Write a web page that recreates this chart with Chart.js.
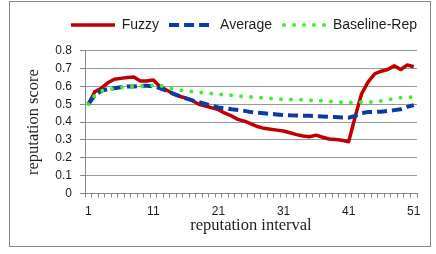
<!DOCTYPE html>
<html>
<head>
<meta charset="utf-8">
<script src="https://cdn.jsdelivr.net/npm/chart.js@4.4.0/dist/chart.umd.min.js"></script>
<style>
  html, body { margin: 0; padding: 0; background: #fff; }
</style>
</head>
<body>
<canvas id="chart" width="436" height="254"></canvas>
<script>
// reputation intervals (x categories)
const intervals = [1, 2, 3, 4, 5, 6, 7, 8, 9, 10, 11, 12, 13, 14, 15, 16, 17, 18, 19, 20,
  21, 22, 23, 24, 25, 26, 27, 28, 29, 30, 31, 32, 33, 34, 35, 36, 37, 38, 39, 40,
  41, 42, 43, 44, 45, 46, 47, 48, 49, 50, 51];

// series
const fuzzy = [0.50, 0.57, 0.59, 0.62, 0.64, 0.645, 0.65, 0.652, 0.63, 0.63,
  0.636, 0.60, 0.58, 0.56, 0.545, 0.535, 0.52, 0.50, 0.49, 0.48,
  0.47, 0.45, 0.435, 0.415, 0.405, 0.39, 0.375, 0.365, 0.36, 0.355,
  0.35, 0.34, 0.33, 0.322, 0.318, 0.327, 0.315, 0.305, 0.302, 0.298,
  0.29, 0.43, 0.56, 0.625, 0.67, 0.685, 0.695, 0.715, 0.695, 0.72, 0.71];
const average = [0.50, 0.55, 0.575, 0.585, 0.59, 0.595, 0.60, 0.60, 0.603, 0.603,
  0.60, 0.59, 0.575, 0.56, 0.545, 0.533, 0.522, 0.512, 0.502, 0.492,
  0.482, 0.477, 0.472, 0.468, 0.463, 0.456, 0.452, 0.449, 0.446, 0.443,
  0.44, 0.438, 0.437, 0.436, 0.435, 0.434, 0.432, 0.43, 0.428, 0.426,
  0.425, 0.435, 0.45, 0.456, 0.457, 0.458, 0.462, 0.467, 0.472, 0.485, 0.495];
const baselineRep = [0.50, 0.55, 0.575, 0.582, 0.588, 0.594, 0.597, 0.60, 0.602, 0.605,
  0.607, 0.605, 0.595, 0.587, 0.58, 0.575, 0.571, 0.567, 0.563, 0.56,
  0.557, 0.553, 0.55, 0.546, 0.543, 0.54, 0.538, 0.535, 0.532, 0.529,
  0.527, 0.527, 0.526, 0.525, 0.523, 0.521, 0.519, 0.517, 0.513, 0.511,
  0.51, 0.51, 0.511, 0.512, 0.514, 0.518, 0.524, 0.532, 0.537, 0.539, 0.539];

const xTickLabels = [1, 11, 21, 31, 41, 51];
const yTicks = [0, 0.1, 0.2, 0.3, 0.4, 0.5, 0.6, 0.7, 0.8];

const GRID = '#9a9a9a';
const AXIS = '#878787';
const TEXT = '#1e1e1e';
const SANS = '"Liberation Sans", Arial, sans-serif';
const SERIF = '"Liberation Serif", "Times New Roman", serif';

const RED = '#C00000';
const BLUE = '#0A3CA8';
const GREEN = '#3BF02C';

// little legend swatch drawn with the same stroke as the series
// (chart.js drops the dash pattern for point-style legend items)
function swatch(color, width, dash, cap, len) {
  const c = document.createElement('canvas');
  c.width = 44;
  c.height = 8;
  const ctx = c.getContext('2d');
  ctx.strokeStyle = color;
  ctx.lineWidth = width;
  ctx.lineCap = cap;
  ctx.setLineDash(dash);
  ctx.beginPath();
  ctx.moveTo(cap === 'round' ? 2 : 0, 4);
  ctx.lineTo(len, 4);
  ctx.stroke();
  return c;
}

// white background + thin grey frame round the whole chart
const framePlugin = {
  id: 'frame',
  beforeDraw(chart) {
    const ctx = chart.ctx;
    ctx.save();
    ctx.fillStyle = '#fff';
    ctx.fillRect(0, 0, chart.width, chart.height);
    ctx.strokeStyle = AXIS;
    ctx.lineWidth = 1;
    ctx.strokeRect(9.5, 1.5, 421, 245);
    ctx.restore();
  }
};

// push the legend row to the right so its last text ends at the plot edge
const legendShift = {
  id: 'legendShift',
  afterLayout(chart) {
    if (chart.legend) {
      chart.legend.left += 10;
      chart.legend.right += 10;
    }
  }
};

// minor tick marks sit on the category boundaries, labels on the categories
const boundaries = intervals.map(v => v - 0.5).concat([intervals[intervals.length - 1] + 0.5]);

new Chart(document.getElementById('chart').getContext('2d'), {
  type: 'line',
  data: {
    labels: intervals,
    datasets: [
      {
        label: 'Fuzzy',
        data: fuzzy,
        borderColor: RED,
        backgroundColor: RED,
        borderWidth: 3.5,
        borderJoinStyle: 'round',
        pointRadius: 0,
        pointStyle: swatch(RED, 3.5, [], 'butt', 44),
        tension: 0,
        order: 3,
      },
      {
        label: 'Average',
        data: average,
        borderColor: BLUE,
        backgroundColor: BLUE,
        borderWidth: 4,
        borderDash: [10, 5],
        pointRadius: 0,
        pointStyle: swatch(BLUE, 4, [10, 5], 'butt', 40),
        tension: 0,
        order: 2,
      },
      {
        label: 'Baseline-Rep',
        data: baselineRep,
        borderColor: GREEN,
        backgroundColor: GREEN,
        borderWidth: 4,
        borderDash: [0, 10],
        borderCapStyle: 'round',
        pointRadius: 0,
        pointStyle: swatch(GREEN, 4, [0, 10], 'round', 44),
        tension: 0,
        order: 1,
      },
    ],
  },
  options: {
    responsive: false,
    animation: false,
    layout: {
      padding: { left: 21, right: 19, top: 8, bottom: 16 },
    },
    plugins: {
      tooltip: { enabled: false },
      legend: {
        position: 'top',
        align: 'end',
        weight: 2000,
        labels: {
          usePointStyle: true,
          pointStyleWidth: 44,
          padding: 10,
          color: TEXT,
          font: { family: SANS, size: 14 },
          sort: (a, b) => a.datasetIndex - b.datasetIndex,
        },
      },
      // empty spacer between legend and plot
      subtitle: {
        display: true,
        text: ' ',
        weight: 500,
        padding: 0,
        font: { size: 8.7, lineHeight: 1 },
      },
    },
    scales: {
      x: {
        type: 'linear',
        min: 0.5,
        max: 51.5,
        afterBuildTicks(scale) {
          const vals = boundaries.concat(xTickLabels).sort((a, b) => a - b);
          scale.ticks = vals.map(v => ({ value: v }));
        },
        afterFit(scale) {
          scale.height = 44.5;
        },
        ticks: {
          autoSkip: false,
          maxRotation: 0,
          padding: 8,
          color: TEXT,
          font: { family: SANS, size: 12, lineHeight: 1 },
          callback: v => (xTickLabels.includes(v) ? String(v) : ''),
        },
        grid: {
          display: true,
          drawOnChartArea: false,
          drawTicks: true,
          tickLength: 4,
          tickColor: c => (c.tick && c.tick.value % 1 !== 0 ? AXIS : 'rgba(0,0,0,0)'),
        },
        border: { display: true, color: AXIS, width: 1 },
        title: {
          display: true,
          text: 'reputation interval',
          color: TEXT,
          padding: { top: 0, bottom: 4 },
          font: { family: SERIF, size: 16.5, lineHeight: 1 },
        },
      },
      y: {
        min: 0,
        max: 0.8,
        afterBuildTicks(scale) {
          scale.ticks = yTicks.map(v => ({ value: v }));
        },
        afterFit(scale) {
          scale.width = 64;
        },
        ticks: {
          autoSkip: false,
          padding: 8,
          color: TEXT,
          font: { family: SANS, size: 12 },
          callback: v => (v === 0 ? '0' : v.toFixed(1)),
        },
        grid: {
          color: GRID,
          lineWidth: 1,
          drawTicks: true,
          tickLength: 5,
          tickColor: AXIS,
        },
        border: { display: true, color: AXIS, width: 1 },
        title: {
          display: true,
          text: 'reputation score',
          color: TEXT,
          padding: { top: 4, bottom: 0 },
          font: { family: SERIF, size: 16.5, lineHeight: 1 },
        },
      },
    },
  },
  plugins: [framePlugin, legendShift],
});
</script>
</body>
</html>
